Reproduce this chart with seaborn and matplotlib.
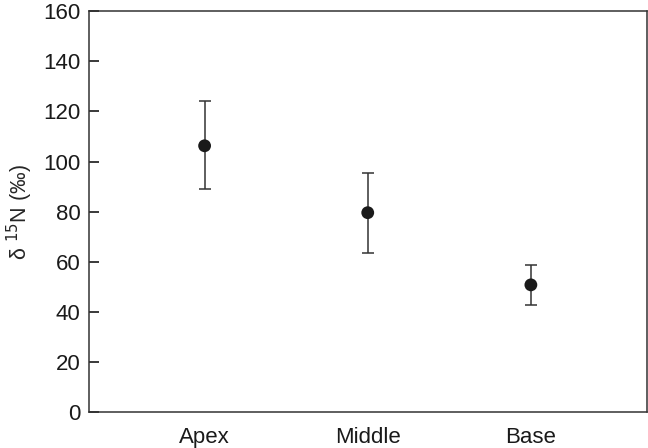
import matplotlib
matplotlib.use("Agg")
import matplotlib.pyplot as plt
import seaborn as sns
import pandas as pd

# values
positions = ["Apex", "Middle", "Base"]
mean_d15n = [106.3, 79.6, 50.8]
upper = [124.3, 95.6, 58.8]
lower = [89.0, 63.5, 42.8]

sns.set_theme(style="ticks", rc={"ytick.direction": "in", "ytick.major.size": 7,
                                  "ytick.major.width": 1.3})
plt.rcParams["font.family"] = ["Liberation Sans", "DejaVu Sans"]

df = pd.DataFrame({"position": positions, "d15n": mean_d15n})
err_low = [m - lo for m, lo in zip(mean_d15n, lower)]
err_high = [hi - m for m, hi in zip(mean_d15n, upper)]

fig = plt.figure(figsize=(6.48, 4.48), dpi=100)
ax = fig.add_axes([0.137, 0.080, 0.861, 0.895])

ax.errorbar(range(len(positions)), mean_d15n, yerr=[err_low, err_high],
            fmt="none", ecolor="#333333", elinewidth=1.1, capsize=4.5, capthick=1.1)
sns.scatterplot(data=df, x="position", y="d15n", ax=ax, color="#1a1a1a",
                s=85, edgecolor="none", zorder=3)

ax.set_xlim(-0.71, 2.71)
ax.set_ylim(0, 160)
ax.set_yticks(range(0, 161, 20))
ax.set_xlabel("")
ax.set_ylabel("δ $^{15}$N (‰)", fontsize=15.5)
ax.yaxis.set_label_coords(-0.097, 0.5)
ax.tick_params(axis="y", which="major", direction="in", length=7, width=1.3,
               left=True, right=False, labelsize=16, color="#2a2a2a",
               labelcolor="#1a1a1a", pad=6)
ax.tick_params(axis="x", length=0, labelsize=16, labelcolor="#1a1a1a", pad=11)
for s in ax.spines.values():
    s.set_visible(True)
    s.set_color("#333333")
    s.set_linewidth(1.1)

fig.savefig("out.png", dpi=100)
